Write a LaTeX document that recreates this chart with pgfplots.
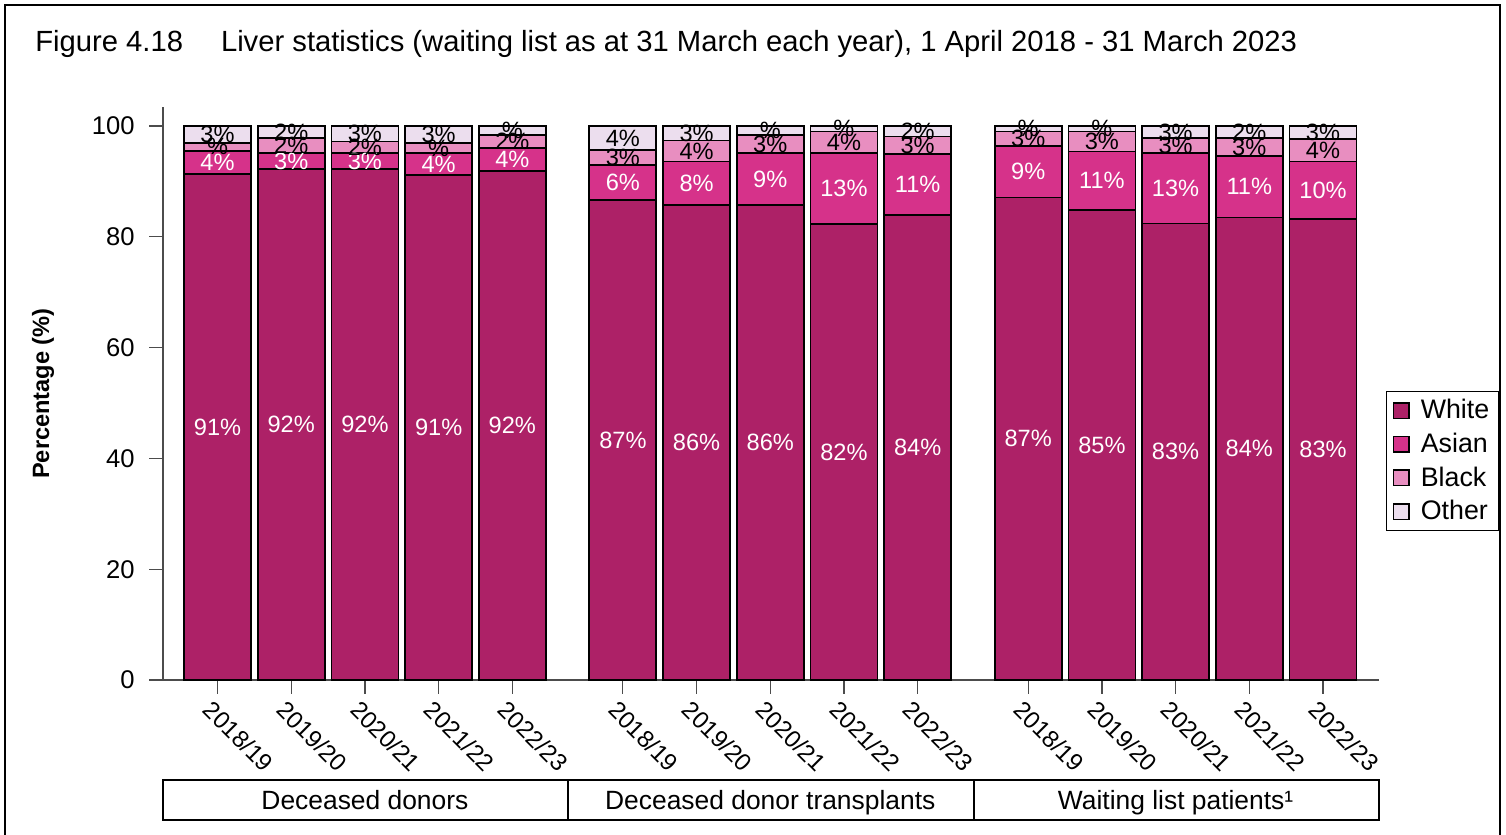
\documentclass[border=0pt]{standalone}
\usepackage{pgfplots}
\pgfplotsset{compat=1.18}
\usepackage{pgfplotstable}
\usepackage{fontspec}
\setmainfont{Liberation Sans}

\definecolor{cW}{RGB}{173,33,103}
\definecolor{cA}{RGB}{214,50,138}
\definecolor{cB}{RGB}{232,142,192}
\definecolor{cO}{RGB}{236,222,238}

\pgfplotstableread{
x    w    a    b   o   lw    la    lb   lo
0    91.3 4.2  1.5 3.0 91\%  4\%   \%   3\%
1    92.2 2.9  2.7 2.2 92\%  3\%   2\%  2\%
2    92.2 3.0  2.0 2.8 92\%  3\%   2\%  3\%
3    91.2 3.9  1.8 3.1 91\%  4\%   \%   3\%
4    91.9 4.2  2.3 1.6 92\%  4\%   2\%  \%
5.5  86.6 6.3  2.8 4.3 87\%  6\%   3\%  4\%
6.5  85.7 7.9  3.8 2.6 86\%  8\%   4\%  3\%
7.5  85.7 9.4  3.3 1.6 86\%  9\%   3\%  \%
8.5  82.3 12.9 3.8 1.0 82\%  13\%  4\%  \%
9.5  83.9 11.0 3.2 1.9 84\%  11\%  3\%  2\%
11   87.1 9.3  2.6 1.0 87\%  9\%   3\%  \%
12   84.8 10.6 3.6 1.0 85\%  11\%  3\%  \%
13   82.4 12.7 2.7 2.2 83\%  13\%  3\%  3\%
14   83.5 11.1 3.2 2.2 84\%  11\%  3\%  2\%
15   83.2 10.4 4.0 2.4 83\%  10\%  4\%  3\%
}\data

\pgfplotsset{
  sqlegend/.style={legend image code/.code={\draw[##1, draw=black, line width=0.7pt] (0pt,-3.9pt) rectangle (7.8pt,3.9pt);}},
  common/.style={at={(81.5pt,77.5pt)}, anchor=south west, scale only axis,
    width=608pt, height=286.4pt, xmin=-0.74, xmax=15.76, ymin=0, ymax=103.4, clip=false},
  lbl/.style={draw=none, mark=none, nodes near coords, point meta=explicit symbolic,
    nodes near coords style={anchor=center, inner sep=0pt, font=\fontsize{11.8}{14}\selectfont, text=#1}}
}
\tikzset{catlbl/.style={font=\fontsize{13.2}{15}\selectfont, text height=1.5ex, text depth=0.3ex, yshift=-1.8pt}}

\begin{document}
\begin{tikzpicture}
\path[use as bounding box] (0,0) rectangle (753pt,417.5pt);
\draw[line width=0.8pt] (2.5pt,-3pt) -- (2.5pt,415pt) -- (750pt,415pt) -- (750pt,-3pt);
\node[anchor=base west, inner sep=0pt, font=\fontsize{14.6}{17}\selectfont] at (17.5pt,391.5pt)
  {Figure 4.18\hspace{1.3em}Liver statistics (waiting list as at 31 March each year), 1 April 2018 - 31 March 2023};

\begin{axis}[common,
  axis x line=bottom, axis y line=left,
  axis line style={-, line width=0.6pt, draw=black!70},
  tick align=outside, major tick length=7pt, tick style={line width=0.6pt, draw=black!70},
  xtick={0,1,2,3,4,5.5,6.5,7.5,8.5,9.5,11,12,13,14,15},
  xticklabels={2018/19,2019/20,2020/21,2021/22,2022/23,2018/19,2019/20,2020/21,2021/22,2022/23,2018/19,2019/20,2020/21,2021/22,2022/23},
  xticklabel style={rotate=-45, anchor=north west, inner sep=1pt, yshift=-2pt, xshift=-0.5pt, font=\fontsize{12}{14}\selectfont},
  ytick={0,20,40,60,80,100},
  yticklabel style={font=\fontsize{12.8}{15}\selectfont, inner sep=1pt, xshift=-6pt},
  /pgf/number format/assume math mode=true,
  ylabel={Percentage (\%)},
  every axis y label/.style={at={(axis description cs:-0.0987,0.5)}, rotate=90, anchor=center, font=\bfseries\fontsize{11.8}{13}\selectfont},
  ybar stacked, bar width=33.5pt,
  legend style={at={(1.006,0.382)}, anchor=west, draw=black, line width=0.5pt,
    font=\fontsize{13.4}{15}\selectfont, row sep=2.6pt, inner xsep=3pt, inner ysep=2.5pt, cells={anchor=west},
    nodes={inner sep=1.5pt, xshift=3pt}},
]
\addplot[fill=cW, draw=black, line width=0.9pt, sqlegend] table[x=x, y=w] {\data};
\addlegendentry{\hspace{4pt}White}
\addplot[fill=cA, draw=black, line width=0.9pt, sqlegend] table[x=x, y=a] {\data};
\addlegendentry{\hspace{4pt}Asian}
\addplot[fill=cB, draw=black, line width=0.9pt, sqlegend] table[x=x, y=b] {\data};
\addlegendentry{\hspace{4pt}Black}
\addplot[fill=cO, draw=black, line width=0.9pt, sqlegend] table[x=x, y=o] {\data};
\addlegendentry{\hspace{4pt}Other}

\draw[line width=0.9pt] (axis cs:-0.74,-18.05) rectangle (axis cs:4.76,-25.27);
\draw[line width=0.9pt] (axis cs:4.76,-18.05) rectangle (axis cs:10.26,-25.27);
\draw[line width=0.9pt] (axis cs:10.26,-18.05) rectangle (axis cs:15.76,-25.27);
\node[catlbl] at (axis cs:2,-21.66) {Deceased donors};
\node[catlbl] at (axis cs:7.5,-21.66) {Deceased donor transplants};
\node[catlbl] at (axis cs:13,-21.66) {Waiting list patients¹};
\end{axis}

\begin{axis}[common, hide axis]
\addplot[lbl=white] table[x=x, y expr=\thisrow{w}/2, meta=lw] {\data};
\addplot[lbl=white] table[x=x, y expr=\thisrow{w}+\thisrow{a}/2, meta=la] {\data};
\addplot[lbl=black] table[x=x, y expr=\thisrow{w}+\thisrow{a}+\thisrow{b}/2, meta=lb] {\data};
\addplot[lbl=black] table[x=x, y expr=\thisrow{w}+\thisrow{a}+\thisrow{b}+\thisrow{o}/2, meta=lo] {\data};
\end{axis}
\end{tikzpicture}
\end{document}
